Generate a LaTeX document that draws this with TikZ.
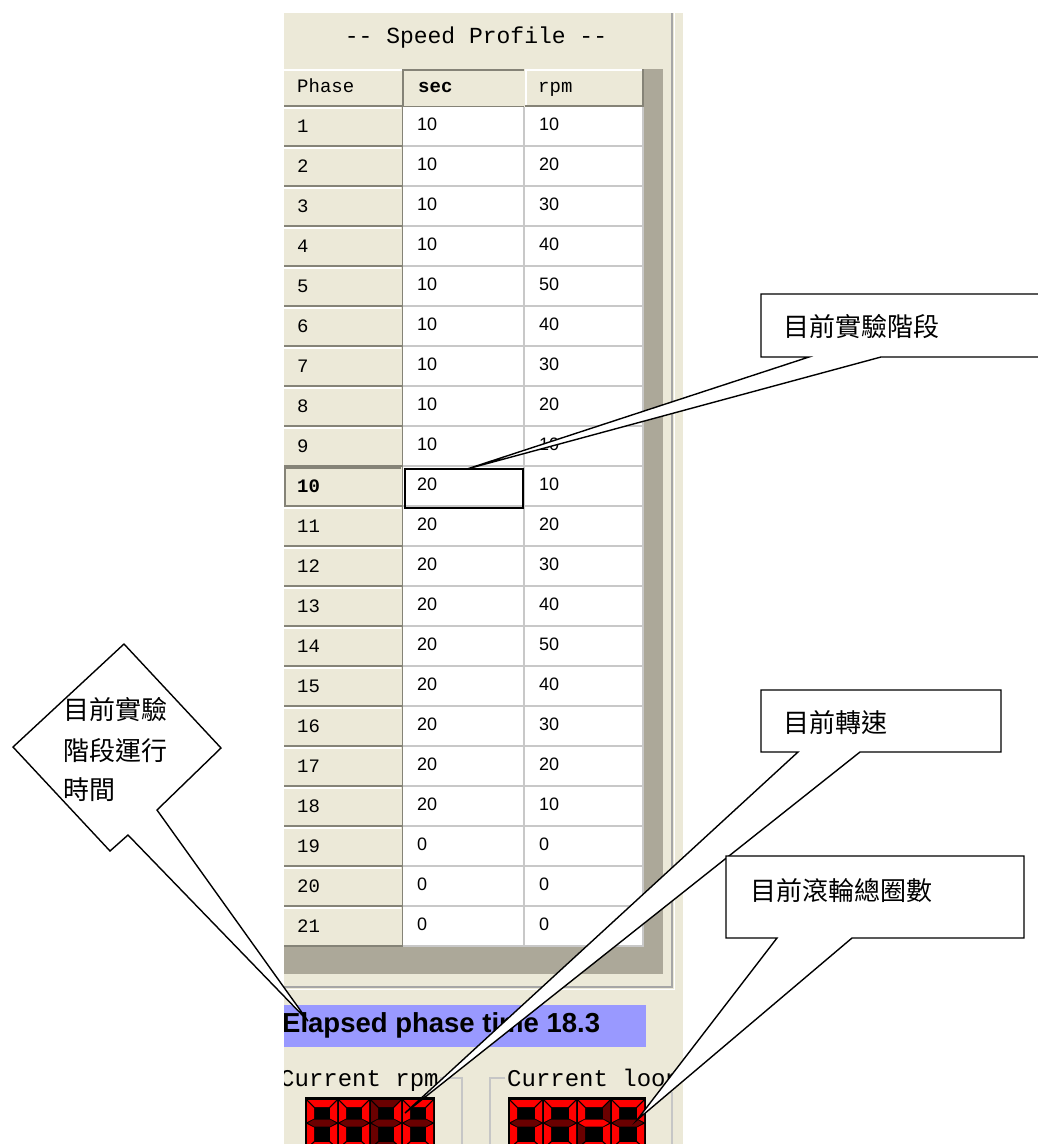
\documentclass[tikz,border=0pt]{standalone}
\usepackage{fontspec}
\setmainfont{Liberation Sans}
\newfontfamily\monof{Liberation Mono}
\newfontfamily\cjkf{Noto Sans CJK TC}
\definecolor{panel}{HTML}{ECE9D8}
\definecolor{darkbar}{HTML}{ACA899}
\definecolor{griddk}{HTML}{858377}
\definecolor{gridlt}{HTML}{C8C8C8}
\definecolor{elapsed}{HTML}{9999FF}
\definecolor{ledon}{HTML}{FF0000}
\definecolor{ledoff}{HTML}{6A0000}
\newcommand\leddigit[9]{%
 \begin{scope}[shift={(#1,1099)}]
  \fill[#3] (2,1) -- ({#2-2},1) -- ({#2-9},8) -- (9,8) -- cycle;
  \fill[#4] ({#2-1},2) -- ({#2-1},23) -- ({#2-8},19.5) -- ({#2-8},9) -- cycle;
  \fill[#5] ({#2-1},25) -- ({#2-1},48) -- ({#2-8},42) -- ({#2-8},28.5) -- cycle;
  \fill[#6] (2,49) -- ({#2-2},49) -- ({#2-9},43) -- (9,43) -- cycle;
  \fill[#7] (1,25) -- (1,48) -- (8,42) -- (8,28.5) -- cycle;
  \fill[#8] (1,2) -- (1,23) -- (8,19.5) -- (8,9) -- cycle;
  \fill[#9] (2,24) -- (8,20.5) -- ({#2-8},20.5) -- ({#2-2},24) -- ({#2-8},27.5) -- (8,27.5) -- cycle;
 \end{scope}}
\tikzset{
  callout/.style={draw=black, fill=white, line width=1.4pt, line join=miter},
  cjktext/.style={anchor=west, inner sep=0pt, font=\cjkf\fontsize{26}{28}\selectfont},
  phtext/.style={anchor=base west, inner sep=0pt, font=\monof\fontsize{19}{20}\selectfont},
  datatext/.style={anchor=base west, inner sep=0pt, font=\fontsize{18}{20}\selectfont},
  hdtext/.style={anchor=base west, inner sep=0pt, font=\monof\fontsize{19}{20}\selectfont},
  grptext/.style={anchor=base west, inner sep=0pt, font=\monof\fontsize{24}{26}\selectfont},
}
\begin{document}
\begin{tikzpicture}[x=1pt,y=-1pt]
\useasboundingbox (0,0) rectangle (1038,1144);
\fill[white] (0,0) rectangle (1038,1144);
% panel
\fill[panel] (284,13) rectangle (683,1144);
\draw[gray!70, line width=1.2pt] (672,13) -- (672,987) -- (284,987);
\draw[white, line width=1.2pt] (674.5,13) -- (674.5,989.5) -- (284,989.5);
\node[anchor=center, inner sep=0pt, font=\monof\fontsize{23}{25}\selectfont] (title) at (476,38) {-- Speed Profile --};
% header row
\fill[panel] (284,69) rectangle (644,107);
\fill[darkbar] (644,69) rectangle (663,974);
\fill[darkbar] (284,947) rectangle (663,974);
\draw[white, line width=1.5pt] (284,70) -- (402,70);
\draw[griddk, line width=1.5pt] (284,106) -- (402,106);
\draw[griddk, line width=1.5pt] (403,106) -- (403,70) -- (524,70);
\draw[griddk, line width=1pt] (403,106) -- (524,106);
\draw[white, line width=1.5pt] (526,106) -- (526,70) -- (643,70);
\draw[griddk, line width=1.5pt] (525,106) -- (643,106) -- (643,69);
\node[hdtext] (hphase) at (297,92) {Phase};
\node[hdtext, font=\monof\bfseries\fontsize{19}{20}\selectfont] (hsec) at (418,92) {sec};
\node[hdtext] (hrpm) at (538,92) {rpm};
% rows
\foreach \i/\s/\r in {1/10/10,2/10/20,3/10/30,4/10/40,5/10/50,6/10/40,7/10/30,8/10/20,9/10/10,10/20/10,11/20/20,12/20/30,13/20/40,14/20/50,15/20/40,16/20/30,17/20/20,18/20/10,19/0/0,20/0/0,21/0/0}{
  \pgfmathsetmacro\tp{107+40*(\i-1)}
  \fill[panel] (284,\tp) rectangle (402,{\tp+40});
  \fill[white] (403,\tp) rectangle (643,{\tp+40});
  \draw[white, line width=1.5pt] (284,{\tp+1}) -- (401,{\tp+1});
  \draw[griddk, line width=1.5pt] (284,{\tp+39}) -- (402,{\tp+39});
  \draw[gridlt, line width=1.5pt] (403,{\tp+39}) -- (643,{\tp+39});
  \draw[gridlt, line width=1.5pt] (524,\tp) -- (524,{\tp+40});
  \draw[gridlt, line width=1.5pt] (643,\tp) -- (643,{\tp+40});
  \ifnum\i=10
    \node[phtext, font=\monof\bfseries\fontsize{19}{20}\selectfont] (p\i) at (297,{\tp+25}) {\i};
  \else
    \node[phtext] (p\i) at (297,{\tp+25}) {\i};
  \fi
  \node[datatext] (s\i) at (417,{\tp+23}) {\s};
  \node[datatext] (r\i) at (539,{\tp+23}) {\r};
}
\draw[griddk, line width=1.5pt] (402.5,69) -- (402.5,947);
% current row marks
\draw[griddk, line width=2pt] (285,507) -- (285,468) -- (401,468);
\draw[black, line width=1.8pt] (405,469) rectangle (523,508);
% elapsed bar
\fill[elapsed] (284,1005) rectangle (646,1047);
\begin{scope}
\clip (284,995) rectangle (673,1144);
\node[anchor=base west, inner sep=0pt, font=\bfseries\fontsize{27.5}{30}\selectfont] (elapsed) at (282,1032) {Elapsed phase time 18.3};
\node[grptext] (currpm) at (280,1086) {Current rpm};
\node[grptext] (curloop) at (507,1086) {Current loop};
\end{scope}
% group boxes
\draw[gray!45, line width=1.2pt] (440,1078) -- (462,1078) -- (462,1144);
\draw[gray!45, line width=1.2pt] (505,1078) -- (490,1078) -- (490,1144);
\draw[gray!45, line width=1.2pt] (672,1092) -- (672,1144);
% LED displays
\fill[black] (305,1097) rectangle (435,1150);
\fill[black] (508,1097) rectangle (646,1150);
\leddigit{306}{32}{ledon}{ledon}{ledon}{ledon}{ledon}{ledon}{ledoff}
\leddigit{338}{32}{ledon}{ledon}{ledon}{ledon}{ledon}{ledon}{ledoff}
\leddigit{370}{32}{ledoff}{ledon}{ledon}{ledoff}{ledoff}{ledoff}{ledoff}
\leddigit{402}{32}{ledon}{ledon}{ledon}{ledon}{ledon}{ledon}{ledoff}
\leddigit{509}{34}{ledon}{ledon}{ledon}{ledon}{ledon}{ledon}{ledoff}
\leddigit{543}{34}{ledon}{ledon}{ledon}{ledon}{ledon}{ledon}{ledoff}
\leddigit{577}{34}{ledon}{ledoff}{ledon}{ledon}{ledoff}{ledon}{ledon}
\leddigit{611}{34}{ledon}{ledon}{ledon}{ledon}{ledon}{ledon}{ledoff}
% callouts
\draw[callout] (761,294) -- (1045,294) -- (1045,357) -- (881,357) -- (467,469) -- (809,357) -- (761,357) -- cycle;
\node[cjktext] (c1) at (783,327) {目前實驗階段};
\draw[callout] (124,644) -- (221,748) -- (157,810) -- (308,1021) -- (128,835) -- (110,851) -- (13,747) -- cycle;
\node[cjktext] (c2a) at (63,710) {目前實驗};
\node[cjktext] (c2b) at (63,751) {階段運行};
\node[cjktext] (c2c) at (63,790) {時間};
\draw[callout] (761,690) -- (1001,690) -- (1001,752) -- (860,752) -- (405,1113) -- (798,752) -- (761,752) -- cycle;
\node[cjktext] (c3) at (783,723) {目前轉速};
\draw[callout] (726,856) -- (1024,856) -- (1024,938) -- (852,938) -- (637,1120) -- (777,938) -- (726,938) -- cycle;
\node[cjktext] (c4) at (750,891) {目前滾輪總圈數};
\end{tikzpicture}
\end{document}
